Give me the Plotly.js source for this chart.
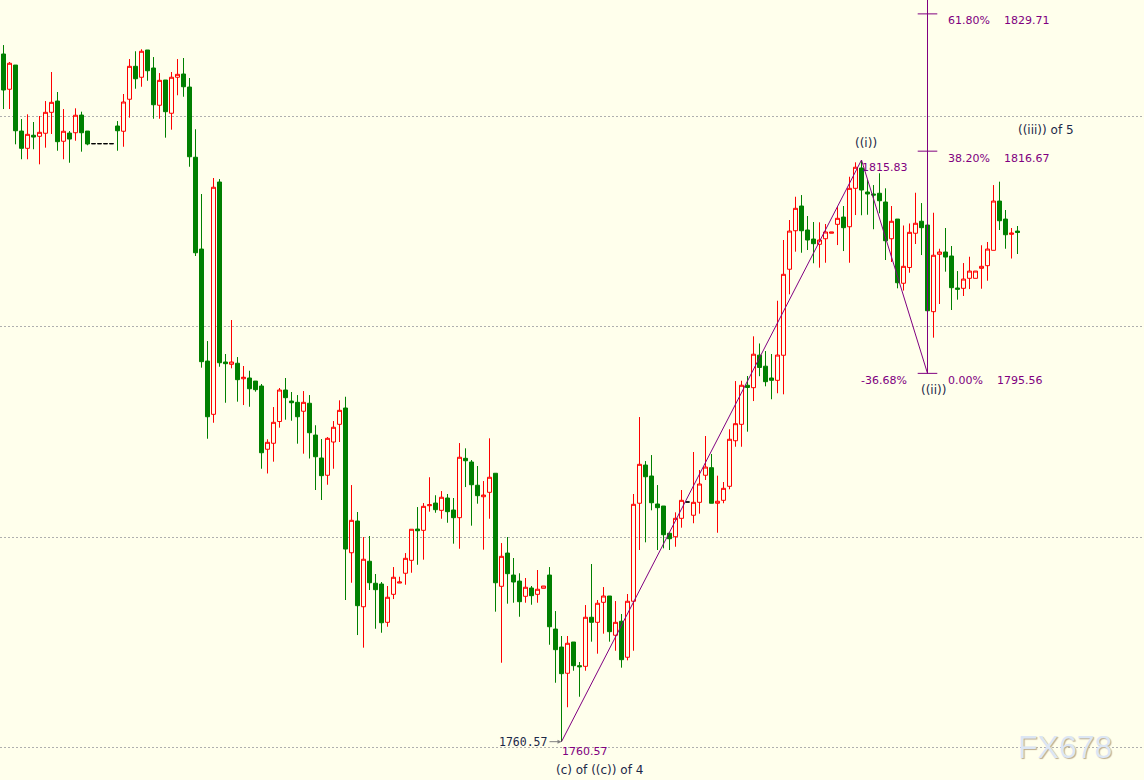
<!DOCTYPE html>
<html>
<head>
<meta charset="utf-8">
<script src="https://cdn.plot.ly/plotly-3.0.1.min.js"></script>
<style>
  html, body { margin: 0; padding: 0; background: #FFFFEC; overflow: hidden; }
  #chart { width: 1144px; height: 780px; }
</style>
</head>
<body>
<div id="chart"></div>
<script>
// OHLC bars, oldest first
const openP = [
  1825.90, 1822.55, 1824.85, 1818.58, 1816.94, 1818.18, 1818.08, 1818.37, 1820.36, 1821.43,
  1817.61, 1818.39, 1818.42, 1820.10, 1818.58, 1817.38, 1817.38, 1817.38, 1817.38, 1819.06,
  1818.56, 1821.60, 1824.73, 1823.69, 1826.28, 1824.57, 1821.03, 1823.43, 1820.27, 1823.69,
  1824.00, 1822.76, 1816.09, 1807.37, 1796.73, 1791.67, 1813.74, 1796.64, 1796.42, 1796.52,
  1795.05, 1795.12, 1794.83, 1794.36, 1788.35, 1788.92, 1790.99, 1793.98, 1792.93, 1792.81,
  1791.96, 1792.72, 1789.70, 1787.52, 1785.88, 1789.04, 1790.72, 1792.27, 1778.52, 1781.53,
  1773.39, 1777.71, 1775.62, 1775.55, 1771.91, 1774.57, 1775.64, 1776.57, 1777.80, 1780.77,
  1780.65, 1782.99, 1783.24, 1782.55, 1783.72, 1782.58, 1781.85, 1787.49, 1787.14, 1784.93,
  1783.84, 1784.26, 1786.07, 1775.33, 1778.49, 1776.40, 1775.83, 1774.38, 1775.17, 1774.57,
  1775.14, 1776.40, 1771.27, 1769.56, 1767.07, 1770.04, 1767.79, 1767.73, 1772.39, 1771.91,
  1773.81, 1774.41, 1770.68, 1772.01, 1768.59, 1773.91, 1783.22, 1786.85, 1785.81, 1783.15,
  1782.96, 1780.37, 1780.04, 1781.79, 1783.34, 1782.08, 1783.31, 1785.88, 1786.60, 1783.22,
  1783.50, 1784.83, 1789.16, 1790.72, 1794.43, 1794.20, 1797.29, 1796.24, 1795.12, 1794.90,
  1797.28, 1805.45, 1809.11, 1811.46, 1809.18, 1808.32, 1807.82, 1808.35, 1808.87, 1809.72,
  1810.41, 1809.49, 1813.14, 1815.07, 1812.79, 1812.60, 1812.67, 1811.84, 1808.35, 1810.22,
  1804.12, 1805.62, 1808.87, 1810.01, 1809.65, 1801.42, 1806.87, 1807.09, 1806.71, 1803.67,
  1803.64, 1804.59, 1804.59, 1805.54, 1805.79, 1807.25, 1811.93, 1810.22, 1808.77, 1809.08
];
const highP = [
  1826.75, 1825.14, 1824.85, 1819.72, 1820.17, 1819.44, 1820.01, 1821.43, 1824.19, 1822.29,
  1820.67, 1818.58, 1820.74, 1820.42, 1818.58, 1817.38, 1817.38, 1817.38, 1817.38, 1819.53,
  1822.10, 1825.42, 1826.16, 1826.35, 1826.28, 1825.61, 1824.09, 1823.43, 1824.19, 1825.42,
  1825.52, 1823.62, 1818.75, 1812.60, 1798.63, 1814.12, 1814.02, 1797.40, 1800.63, 1797.11,
  1796.26, 1795.81, 1794.83, 1794.55, 1789.30, 1792.36, 1794.17, 1795.12, 1793.79, 1793.50,
  1793.88, 1793.50, 1790.63, 1789.32, 1789.51, 1791.03, 1793.00, 1793.34, 1784.95, 1782.39,
  1780.01, 1780.11, 1776.50, 1775.74, 1775.36, 1777.16, 1776.24, 1778.49, 1780.75, 1782.86,
  1783.24, 1785.69, 1783.98, 1784.38, 1784.10, 1783.72, 1788.94, 1788.44, 1787.33, 1786.76,
  1785.33, 1789.39, 1786.07, 1779.44, 1780.01, 1778.02, 1776.57, 1776.12, 1775.36, 1776.88,
  1775.36, 1777.16, 1772.98, 1770.61, 1770.61, 1770.04, 1768.14, 1773.55, 1777.45, 1774.03,
  1775.26, 1774.41, 1773.93, 1772.70, 1774.60, 1784.10, 1791.41, 1787.23, 1787.80, 1784.95,
  1782.96, 1780.37, 1782.36, 1784.48, 1783.34, 1788.09, 1786.38, 1789.61, 1787.90, 1785.84,
  1785.24, 1790.25, 1794.83, 1794.86, 1795.31, 1799.08, 1798.40, 1797.68, 1797.40, 1802.46,
  1808.23, 1810.13, 1812.34, 1812.50, 1810.51, 1809.94, 1809.91, 1809.75, 1808.99, 1811.36,
  1811.46, 1814.24, 1815.61, 1815.83, 1813.93, 1813.45, 1814.57, 1813.14, 1811.46, 1810.22,
  1809.61, 1809.80, 1812.72, 1811.74, 1809.65, 1810.82, 1807.40, 1809.37, 1807.66, 1805.28,
  1806.04, 1806.64, 1805.28, 1807.73, 1808.04, 1813.45, 1813.77, 1811.08, 1809.37, 1809.56
];
const lowP = [
  1820.67, 1820.67, 1817.32, 1815.90, 1815.90, 1816.85, 1815.42, 1817.00, 1818.30, 1816.71,
  1815.90, 1815.57, 1817.66, 1816.62, 1817.23, 1817.38, 1817.38, 1817.38, 1817.38, 1816.71,
  1817.09, 1819.85, 1822.60, 1822.79, 1823.36, 1819.75, 1819.75, 1817.95, 1818.71, 1821.98,
  1821.84, 1815.19, 1806.71, 1796.10, 1789.35, 1790.87, 1796.19, 1792.77, 1796.04, 1792.87,
  1792.55, 1792.39, 1793.82, 1786.50, 1786.05, 1787.17, 1790.40, 1791.16, 1791.06, 1788.88,
  1787.93, 1787.47, 1784.48, 1783.53, 1784.98, 1786.50, 1789.04, 1774.03, 1775.67, 1770.70,
  1769.50, 1774.98, 1771.30, 1770.92, 1771.49, 1774.12, 1775.64, 1775.48, 1776.62, 1777.38,
  1777.86, 1782.42, 1782.32, 1781.75, 1781.37, 1779.38, 1778.90, 1784.76, 1781.09, 1783.18,
  1778.81, 1781.75, 1772.92, 1768.07, 1773.68, 1773.77, 1772.44, 1773.77, 1773.58, 1773.77,
  1775.14, 1769.78, 1766.17, 1760.57, 1763.84, 1767.31, 1764.84, 1767.31, 1770.07, 1768.93,
  1770.83, 1770.07, 1769.21, 1767.60, 1768.30, 1769.21, 1778.78, 1779.51, 1782.55, 1778.78,
  1778.94, 1778.78, 1779.09, 1780.90, 1783.34, 1781.32, 1782.23, 1785.43, 1783.22, 1780.42,
  1783.22, 1784.55, 1788.59, 1788.59, 1790.02, 1792.93, 1795.29, 1794.33, 1793.10, 1793.67,
  1793.57, 1803.07, 1807.12, 1807.02, 1807.28, 1806.02, 1805.60, 1806.07, 1808.87, 1807.75,
  1807.18, 1806.07, 1810.60, 1810.58, 1810.63, 1809.25, 1810.77, 1806.33, 1806.14, 1803.64,
  1803.43, 1805.12, 1807.85, 1806.80, 1801.01, 1798.95, 1802.15, 1805.22, 1801.58, 1802.56,
  1802.91, 1803.57, 1804.59, 1803.60, 1804.36, 1807.25, 1809.18, 1807.40, 1806.47, 1806.90
];
const closeP = [
  1822.48, 1825.02, 1818.61, 1816.94, 1818.27, 1818.01, 1818.46, 1820.36, 1821.31, 1817.57,
  1818.56, 1817.82, 1820.08, 1818.42, 1817.35, 1817.38, 1817.38, 1817.38, 1817.38, 1818.61,
  1821.34, 1824.73, 1823.55, 1826.16, 1824.31, 1821.08, 1823.40, 1820.42, 1823.69, 1823.97,
  1822.79, 1816.14, 1807.02, 1796.67, 1791.44, 1813.24, 1796.57, 1796.48, 1796.64, 1794.96,
  1795.19, 1794.10, 1794.01, 1788.02, 1789.01, 1790.91, 1793.98, 1793.25, 1792.77, 1791.44,
  1792.81, 1789.92, 1787.64, 1785.84, 1789.39, 1790.44, 1792.05, 1778.87, 1781.60, 1773.49,
  1777.90, 1775.67, 1775.01, 1771.87, 1774.29, 1776.19, 1775.74, 1777.99, 1780.75, 1780.61,
  1782.93, 1783.08, 1782.61, 1783.79, 1782.42, 1781.85, 1787.59, 1787.26, 1784.98, 1783.94,
  1784.00, 1785.69, 1775.67, 1778.18, 1776.53, 1775.74, 1773.87, 1775.24, 1774.44, 1775.05,
  1775.36, 1771.49, 1769.31, 1767.03, 1769.92, 1767.79, 1767.69, 1772.39, 1771.91, 1773.72,
  1774.41, 1771.02, 1771.91, 1768.36, 1773.91, 1783.12, 1786.92, 1785.74, 1783.27, 1782.80,
  1780.23, 1779.85, 1781.79, 1783.50, 1783.34, 1783.31, 1785.05, 1786.66, 1783.22, 1783.41,
  1784.64, 1789.30, 1790.78, 1794.43, 1794.22, 1797.38, 1796.12, 1794.77, 1794.90, 1797.30,
  1804.97, 1809.08, 1811.24, 1809.11, 1808.23, 1807.88, 1808.23, 1808.99, 1808.99, 1810.29,
  1809.40, 1813.14, 1815.14, 1812.98, 1812.60, 1812.50, 1811.96, 1808.16, 1810.01, 1804.17,
  1805.73, 1808.96, 1809.82, 1809.40, 1801.51, 1806.78, 1807.09, 1806.61, 1803.70, 1803.55,
  1804.52, 1805.28, 1805.28, 1805.73, 1807.37, 1811.93, 1810.06, 1808.73, 1808.89, 1808.94
];

// Elliott wave pivots: (c) low, ((i)) top, ((ii)) bottom
const waveX = [93, 143, 154];
const waveY = [1760.57, 1815.83, 1795.56];
const waveLabels = ['(c) of ((c)) of 4', '((i))', '((ii))'];
const nextWaveLabel = '((iii)) of 5';

// Fibonacci projection levels
const fibPct = ['61.80%', '38.20%', '0.00%'];
const fibVal = [1829.71, 1816.67, 1795.56];
const retracePct = '-36.68%';

// horizontal price grid
const gridLevels = [1760, 1780, 1800, 1820];
const yRange = [1756.93, 1831.03];
const xRange = [-0.5833, 190.0833];

const bg = '#FFFFEC';
const upColor = '#FF0000';
const downColor = '#008000';
const purple = '#800080';
const navy = '#1C2848';

const idx = openP.map((_, i) => i);
const isFlat = i => openP[i] === highP[i] && highP[i] === lowP[i] && lowP[i] === closeP[i];
const bodyIdx = idx.filter(i => !isFlat(i));
const flatIdx = idx.filter(isFlat);
const pick = (arr, ids) => ids.map(i => arr[i]);

const traces = [
  {
    type: 'candlestick',
    x: bodyIdx,
    open: pick(openP, bodyIdx), high: pick(highP, bodyIdx),
    low: pick(lowP, bodyIdx), close: pick(closeP, bodyIdx),
    increasing: { line: { color: upColor, width: 1 }, fillcolor: bg },
    decreasing: { line: { color: downColor, width: 1 }, fillcolor: downColor },
    whiskerwidth: 0,
    hoverinfo: 'skip'
  },
  {
    type: 'candlestick',
    x: flatIdx,
    open: pick(openP, flatIdx), high: pick(highP, flatIdx),
    low: pick(lowP, flatIdx), close: pick(closeP, flatIdx),
    increasing: { line: { color: '#000000', width: 1 }, fillcolor: '#000000' },
    decreasing: { line: { color: '#000000', width: 1 }, fillcolor: '#000000' },
    whiskerwidth: 0,
    hoverinfo: 'skip'
  },
  {
    type: 'scatter', mode: 'lines',
    x: waveX, y: waveY,
    line: { color: purple, width: 1 },
    hoverinfo: 'skip'
  },
  {
    type: 'scatter', mode: 'lines',
    x: [waveX[2], waveX[2]], y: [fibVal[2], yRange[1]],
    line: { color: purple, width: 1 },
    hoverinfo: 'skip'
  },
  {
    type: 'scatter', mode: 'markers',
    x: fibVal.map(() => waveX[2]), y: fibVal,
    marker: { symbol: 'line-ew', size: 14, color: purple, line: { color: purple, width: 1 } },
    hoverinfo: 'skip'
  }
];

const fontP = { family: 'DejaVu Sans, sans-serif', size: 11, color: purple };
const fontN = { family: 'DejaVu Sans, sans-serif', size: 12, color: navy };
const valueShift = [75.5, 75.5, 69];

const annotations = [
  ...fibPct.map((t, i) => ({
    x: waveX[2], y: fibVal[i], xref: 'x', yref: 'y', text: t, showarrow: false,
    xanchor: 'left', yanchor: 'middle', xshift: 18, yshift: -7, font: fontP
  })),
  ...fibVal.map((v, i) => ({
    x: waveX[2], y: v, xref: 'x', yref: 'y', text: v.toFixed(2), showarrow: false,
    xanchor: 'left', yanchor: 'middle', xshift: valueShift[i] - 1.5, yshift: -7, font: fontP
  })),
  {
    x: waveX[2], y: waveY[2], xref: 'x', yref: 'y', text: retracePct, showarrow: false,
    xanchor: 'right', yanchor: 'middle', xshift: -19, yshift: -7, font: fontP
  },
  {
    x: waveX[1], y: waveY[1], xref: 'x', yref: 'y', text: waveY[1].toFixed(2), showarrow: false,
    xanchor: 'left', yanchor: 'middle', xshift: -1.5, yshift: -7, font: fontP
  },
  {
    x: waveX[1], y: waveY[1], xref: 'x', yref: 'y', text: waveLabels[1], showarrow: false,
    xanchor: 'center', yanchor: 'middle', xshift: 4.5, yshift: 17, font: fontN
  },
  {
    x: waveX[2], y: waveY[2], xref: 'x', yref: 'y', text: waveLabels[2], showarrow: false,
    xanchor: 'center', yanchor: 'middle', xshift: 6, yshift: -17, font: fontN
  },
  {
    x: 1016 / 1144, y: 1 - 130 / 780, xref: 'paper', yref: 'paper', text: nextWaveLabel,
    showarrow: false, xanchor: 'left', yanchor: 'middle', font: fontN
  },
  {
    x: waveX[0], y: waveY[0], xref: 'x', yref: 'y', text: waveY[0].toFixed(2), showarrow: false,
    xanchor: 'left', yanchor: 'middle', xshift: -1.5, yshift: -10, font: fontP
  },
  {
    x: waveX[0], y: waveY[0], xref: 'x', yref: 'y', text: waveLabels[0], showarrow: false,
    xanchor: 'left', yanchor: 'middle', xshift: -8, yshift: -28.5, font: fontN
  },
  {
    x: waveX[0], y: waveY[0], xref: 'x', yref: 'y', text: waveY[0].toFixed(2),
    showarrow: true, ax: -38, ay: 0, standoff: 0,
    arrowcolor: '#808080', arrowwidth: 1, arrowhead: 2, arrowsize: 0.8,
    font: { family: 'DejaVu Sans Mono, monospace', size: 11.5, color: navy }
  },
  {
    x: 1016 / 1144, y: 1 - 747 / 780, xref: 'paper', yref: 'paper', text: 'FX678',
    showarrow: false, xanchor: 'left', yanchor: 'middle',
    font: { family: 'Liberation Sans, Arial, sans-serif', size: 32, color: '#DCE6F4',
            shadow: '1px 1px 1px #BCAC8E' }
  }
];

const layout = {
  width: 1144, height: 780,
  margin: { l: 0, r: 0, t: 0, b: 0, pad: 0 },
  paper_bgcolor: bg, plot_bgcolor: bg,
  showlegend: false,
  boxgap: 0.2, boxgroupgap: 1 / 6,
  xaxis: {
    range: xRange, showgrid: false, zeroline: false, showticklabels: false,
    ticks: '', showline: false, rangeslider: { visible: false }, fixedrange: true
  },
  yaxis: {
    range: yRange, tickvals: gridLevels, showticklabels: false, ticks: '',
    showgrid: true, gridcolor: '#AFAFAF', gridwidth: 1, griddash: '2px,2px',
    zeroline: false, showline: false, fixedrange: true
  },
  annotations: annotations
};

Plotly.newPlot('chart', traces, layout, { displayModeBar: false, staticPlot: true });
</script>
</body>
</html>
